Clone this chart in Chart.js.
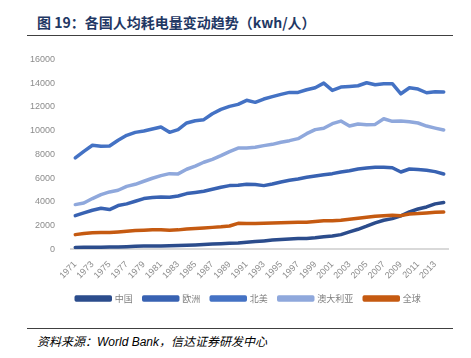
<!DOCTYPE html>
<html>
<head>
<meta charset="utf-8">
<script src="https://cdn.jsdelivr.net/npm/chart.js@4.4.1/dist/chart.umd.min.js"></script>
<style>
    body { margin: 0; background: #fff; width: 471px; height: 358px; position: relative; overflow: hidden; }
    .title { position: absolute; left: 37px; top: 12px; font: bold 14px "Noto Sans CJK SC", sans-serif; color: #1f3864; white-space: nowrap; }
    .rule { position: absolute; left: 27px; width: 426px; height: 1px; background: #404040; }
    .source { position: absolute; left: 37px; top: 332px; font: italic 12px "Liberation Sans", "Noto Sans CJK SC", sans-serif; color: #000; white-space: nowrap; }
    #wrap { position: absolute; left: 0; top: 46px; width: 471px; height: 267px; }
</style>
</head>
<body>
<div class="title">图 19：各国人均耗电量变动趋势（kwh/人）</div>
<div class="rule" style="top:35px"></div>
<div id="wrap"><canvas id="chart"></canvas></div>
<div class="rule" style="top:328px"></div>
<div class="source">资料来源：World Bank，信达证券研发中心</div>
<script>
// Data (kWh per person)
const years = ['1971','1972','1973','1974','1975','1976','1977','1978','1979','1980',
    '1981','1982','1983','1984','1985','1986','1987','1988','1989','1990',
    '1991','1992','1993','1994','1995','1996','1997','1998','1999','2000',
    '2001','2002','2003','2004','2005','2006','2007','2008','2009','2010',
    '2011','2012','2013','2014'];

const china = [150,160,170,170,190,190,210,240,260,270,
    280,290,310,330,360,390,430,470,500,530,
    580,640,700,770,820,870,900,910,960,1050,
    1120,1230,1460,1680,1940,2220,2440,2580,2810,3140,
    3390,3560,3820,3930];

const europe = [2830,3060,3280,3450,3340,3680,3820,4040,4270,4350,
    4410,4380,4490,4690,4780,4880,5050,5220,5360,5390,
    5470,5450,5360,5500,5670,5810,5920,6060,6170,6280,
    6370,6510,6620,6760,6850,6900,6900,6870,6510,6760,
    6710,6650,6540,6340];

const northAmerica = [7690,8250,8760,8670,8700,9180,9600,9850,9960,10130,
    10300,9850,10080,10640,10830,10920,11420,11790,12040,12210,
    12550,12380,12660,12860,13050,13220,13220,13440,13610,14000,
    13390,13670,13720,13780,14030,13860,13950,13950,13100,13610,
    13500,13190,13270,13250];

const australia = [3760,3900,4270,4600,4830,4970,5300,5470,5730,5980,
    6200,6370,6350,6740,7000,7330,7580,7890,8230,8530,
    8530,8590,8730,8840,9010,9150,9320,9740,10080,10200,
    10580,10800,10380,10550,10500,10520,11000,10780,10800,10750,
    10640,10380,10210,10050];

const world = [1230,1320,1380,1400,1400,1460,1520,1570,1600,1630,
    1630,1600,1630,1710,1750,1790,1840,1890,1960,2180,
    2170,2170,2180,2200,2220,2250,2270,2280,2330,2390,
    2390,2440,2530,2610,2690,2780,2830,2860,2830,2970,
    3000,3060,3110,3140];

const seriesNames = ['中国', '欧洲', '北美', '澳大利亚', '全球'];
const seriesColors = ['#2b4c8c', '#3862b2', '#4472c4', '#8fa8dc', '#c55a11'];
const yTicks = [0, 2000, 4000, 6000, 8000, 10000, 12000, 14000, 16000];

const allSeries = [china, europe, northAmerica, australia, world];

const datasets = allSeries.map((values, i) => ({
    label: seriesNames[i],
    data: values,
    borderColor: seriesColors[i],
    backgroundColor: seriesColors[i],
    borderWidth: 3.5,
    borderJoinStyle: 'round',
    borderCapStyle: 'round',
    pointRadius: 0,
    tension: 0,
    fill: false,
    order: 4 - i
}));

const tickFont = { family: '"Liberation Sans", Arial, sans-serif', size: 9 };

// nudge the legend a little left of the plot centre, like the original
const legendShift = {
    id: 'legendShift',
    afterLayout(chart) {
        chart.legend.left -= 11;
        chart.legend.right -= 11;
    }
};

new Chart(document.getElementById('chart'), {
    type: 'line',
    data: { labels: years, datasets: datasets },
    plugins: [legendShift],
    options: {
        responsive: true,
        maintainAspectRatio: false,
        animation: false,
        layout: { padding: { left: 0, right: 23, top: 11, bottom: 0 } },
        plugins: {
            tooltip: { enabled: false },
            legend: {
                position: 'bottom',
                fullSize: false,
                labels: {
                    boxWidth: 34,
                    boxHeight: 3,
                    padding: 11,
                    color: '#7f7f7f',
                    font: { family: '"Noto Sans CJK SC", sans-serif', size: 9 },
                    // keep the legend in series order, not drawing order
                    sort: (a, b) => a.datasetIndex - b.datasetIndex
                }
            }
        },
        scales: {
            x: {
                offset: true,
                grid: { display: false },
                border: { display: true, color: '#d9d9d9', width: 2 },
                ticks: {
                    autoSkip: false,
                    minRotation: 45,
                    maxRotation: 45,
                    padding: 2,
                    color: '#8c8c8c',
                    font: tickFont,
                    callback: (val, i) => (i % 2 === 0 ? years[i] : '')
                }
            },
            y: {
                min: yTicks[0],
                max: yTicks[yTicks.length - 1],
                grid: { display: false },
                border: { display: false },
                afterFit: (scale) => { scale.width = 71; },
                afterBuildTicks: (scale) => { scale.ticks = yTicks.map(v => ({ value: v })); },
                ticks: {
                    padding: 8,
                    color: '#8c8c8c',
                    font: tickFont,
                    callback: (v) => String(v)
                }
            }
        }
    }
});
</script>
</body>
</html>
